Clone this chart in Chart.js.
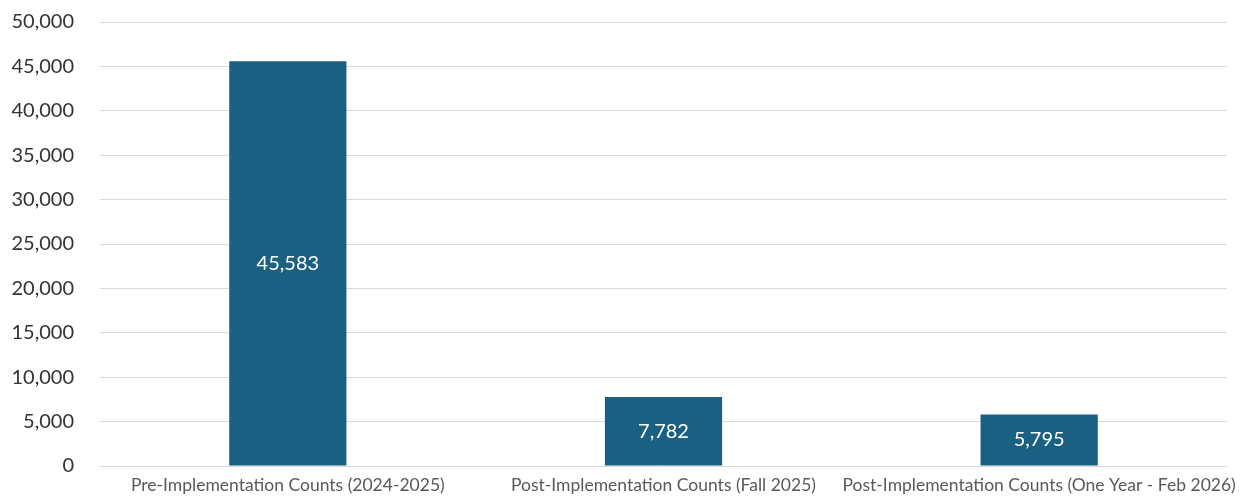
<!DOCTYPE html>
<html>
<head>
<meta charset="utf-8">
<script src="https://cdn.jsdelivr.net/npm/chart.js@4/dist/chart.umd.min.js"></script>
<style>
    html, body { margin: 0; padding: 0; background: #ffffff; }
    .chart-wrap { position: relative; width: 1252px; height: 497px; }
</style>
</head>
<body>
<div class="chart-wrap"><canvas id="countsChart"></canvas></div>
<script>
const categories = [
    'Pre-Implementation Counts (2024-2025)',
    'Post-Implementation Counts (Fall 2025)',
    'Post-Implementation Counts (One Year - Feb 2026)'
];
const countValues = [45583, 7782, 5795];
const yTicks = [0, 5000, 10000, 15000, 20000, 25000, 30000, 35000, 40000, 45000, 50000];

// draws the value in the middle of each bar
const barValueLabels = {
    id: 'barValueLabels',
    afterDatasetsDraw(chart) {
        const ctx = chart.ctx;
        const meta = chart.getDatasetMeta(0);
        ctx.save();
        ctx.fillStyle = '#ffffff';
        ctx.font = '20px Lato';
        ctx.textAlign = 'center';
        ctx.textBaseline = 'middle';
        meta.data.forEach(function(bar, i) {
            const mid = (bar.y + bar.base) / 2;
            ctx.fillText(countValues[i].toLocaleString('en-US'), bar.x, mid);
        });
        ctx.restore();
    }
};

document.addEventListener('DOMContentLoaded', function() {
    const canvas = document.getElementById('countsChart');

    new Chart(canvas, {
        type: 'bar',
        data: {
            labels: categories,
            datasets: [{
                label: 'Counts',
                data: countValues,
                backgroundColor: '#1a6082',
                categoryPercentage: 1,
                barPercentage: 0.312
            }]
        },
        options: {
            responsive: true,
            maintainAspectRatio: false,
            animation: false,
            layout: {
                padding: { top: 22, right: 25, left: 0, bottom: 0 }
            },
            plugins: {
                legend: { display: false },
                tooltip: { enabled: false }
            },
            scales: {
                x: {
                    grid: { display: false },
                    border: { display: false },
                    ticks: {
                        autoSkip: false,
                        maxRotation: 0,
                        minRotation: 0,
                        padding: 1,
                        color: '#595959',
                        font: { family: 'Lato', size: 17.5 }
                    },
                    afterFit: function(scale) { scale.height = 31; }
                },
                y: {
                    min: 0,
                    max: 50000,
                    afterBuildTicks: function(scale) {
                        scale.ticks = yTicks.map(v => ({ value: v }));
                    },
                    grid: { color: '#d9d9d9', lineWidth: 1, drawTicks: false },
                    border: { display: false },
                    ticks: {
                        padding: 26,
                        color: '#333333',
                        font: { family: 'Lato', size: 20 },
                        callback: function(v) { return v.toLocaleString('en-US'); }
                    },
                    afterFit: function(scale) {
                        scale.width = 100;
                        scale.paddingTop = 0;
                        scale.paddingBottom = 0;
                    }
                }
            }
        },
        plugins: [barValueLabels]
    });
});
</script>
</body>
</html>
